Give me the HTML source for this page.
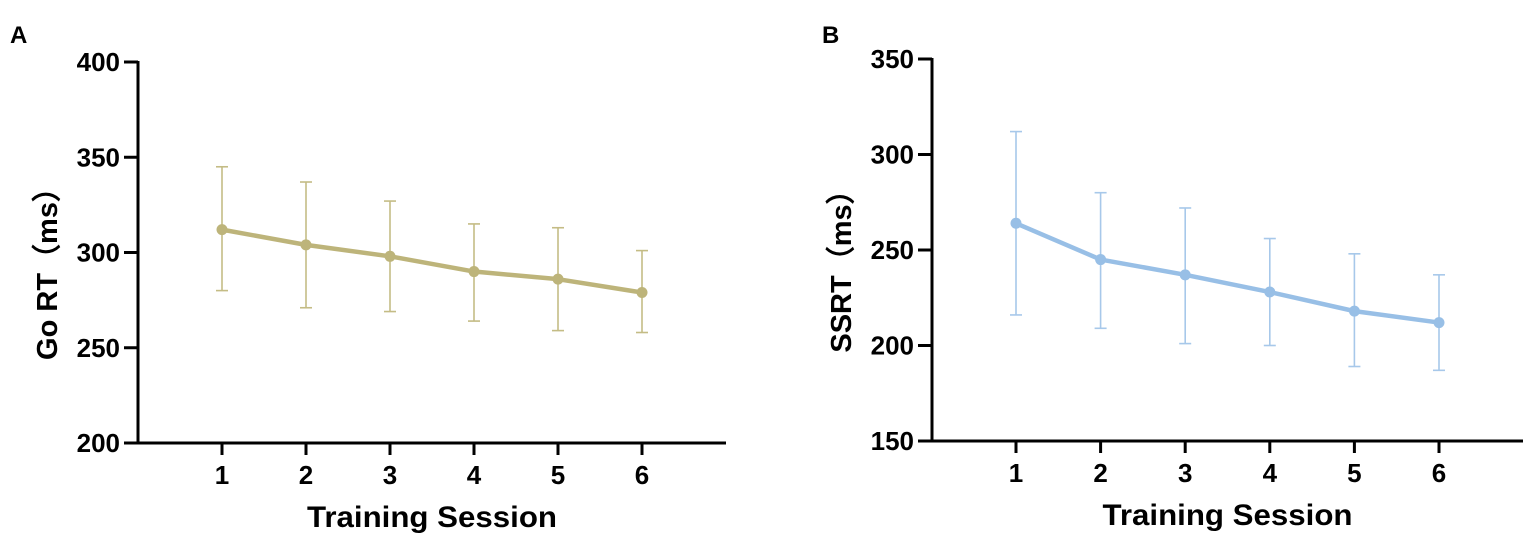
<!DOCTYPE html>
<html><head><meta charset="utf-8"><style>
body{margin:0;background:#fff;}
svg{display:block;font-family:"Liberation Sans",Arial,sans-serif;font-weight:bold;}
</style></head><body>
<svg id="chart" width="1535" height="540" viewBox="0 0 1535 540"></svg>
<script>
const sessions = [1,2,3,4,5,6];
const goMean = [312,304,298,290,286,279];
const goUpper = [345,337,327,315,313,301];
const goLower = [280,271,269,264,259,258];
const goTicks = [200,250,300,350,400];
const ssMean = [264,245,237,228,218,212];
const ssUpper = [312,280,272,256,248,237];
const ssLower = [216,209,201,200,189,187];
const ssTicks = [150,200,250,300,350];

const svg = document.getElementById('chart');
const NS = 'http://www.w3.org/2000/svg';
function mk(tag, attrs, parent){
  const e = document.createElementNS(NS, tag);
  for (const k in attrs) e.setAttribute(k, attrs[k]);
  (parent||svg).appendChild(e);
  return e;
}
function panel(o){
  const g = mk('g', {});
  
  
  const yMin = o.ticks[0], yMax = o.ticks[o.ticks.length-1];
  const y = v => o.yBot - (v - yMin) / (yMax - yMin) * (o.yBot - o.yTop);
  const x = s => o.x1 + (s - 1) * o.dx;
  const lbl = mk('text', {x:o.labX, y:43, 'font-size':24, fill:'#000'}, g); lbl.textContent = o.letter;
  
  
  const ya = mk('line', {x1:o.ax, y1:o.yTop-1, x2:o.ax, y2:o.yBot+1.5, stroke:'#000', 'stroke-width':3}, g);
  
  
  const xa = mk('line', {x1:o.ax-1.5, y1:o.yBot, x2:o.xEnd, y2:o.yBot, stroke:'#000', 'stroke-width':3}, g);
  
  
  o.ticks.forEach(t => {
    mk('line', {x1:o.ax-14, y1:y(t), x2:o.ax, y2:y(t), stroke:'#000', 'stroke-width':3}, g);
    const tl = mk('text', {x:o.ax-18, y:y(t)+9, 'font-size':26, 'text-anchor':'end', fill:'#000'}, g);
    tl.textContent = t;
    
    
  });
  sessions.forEach(s => {
    mk('line', {x1:x(s), y1:o.yBot, x2:x(s), y2:o.yBot+12, stroke:'#000', 'stroke-width':3}, g);
    const tl = mk('text', {x:x(s), y:o.yBot+41, 'font-size':26, 'text-anchor':'middle', fill:'#000'}, g);
    tl.textContent = s;
    
    
  });
  const xt = mk('text', {x:(o.x1+x(6))/2, y:o.yBot+84, 'font-size':30, 'text-anchor':'middle', fill:'#000', 'textLength':250, 'lengthAdjust':'spacingAndGlyphs'}, g);
  xt.textContent = 'Training Session';
  
  
  const cy = (o.yTop+o.yBot)/2 + o.ytOff;
  const yt = mk('text', {x:0, y:0, 'font-size':29, 'text-anchor':'middle', fill:'#000', transform:`translate(${o.ax-81},${cy}) rotate(-90)`}, g);
  yt.textContent = o.ytitle;
  
  
  sessions.forEach((s,i) => {
    const eb = mk('g', {stroke:o.ecolor, 'stroke-width':1.6}, g);
    
    
    mk('line', {x1:x(s), y1:y(o.upper[i]), x2:x(s), y2:y(o.lower[i])}, eb);
    mk('line', {x1:x(s)-6, y1:y(o.upper[i]), x2:x(s)+6, y2:y(o.upper[i])}, eb);
    mk('line', {x1:x(s)-6, y1:y(o.lower[i]), x2:x(s)+6, y2:y(o.lower[i])}, eb);
  });
  const pl = mk('polyline', {points: sessions.map((s,i)=>x(s)+','+y(o.mean[i])).join(' '), fill:'none', stroke:o.color, 'stroke-width':4.5, 'stroke-linejoin':'round'}, g);
  
  
  sessions.forEach((s,i) => {
    const c = mk('circle', {cx:x(s), cy:y(o.mean[i]), r:5.5, fill:o.color}, g);
    
    
  });
}
panel({name:'panel-a-go-rt', letter:'A', labX:10, ax:138, yTop:62, yBot:443, x1:222, dx:84, xEnd:726, ytOff:14,
  ticks:goTicks, mean:goMean, upper:goUpper, lower:goLower, color:'#bdb47a', ecolor:'#c4bc85', ytitle:'Go RT（ms）'});
panel({name:'panel-b-ssrt', letter:'B', labX:822, ax:932, yTop:59, yBot:441, x1:1016, dx:84.6, xEnd:1523, ytOff:14,
  ticks:ssTicks, mean:ssMean, upper:ssUpper, lower:ssLower, color:'#98bfe6', ecolor:'#a7c8ea', ytitle:'SSRT（ms）'});
</script>
</body></html>
